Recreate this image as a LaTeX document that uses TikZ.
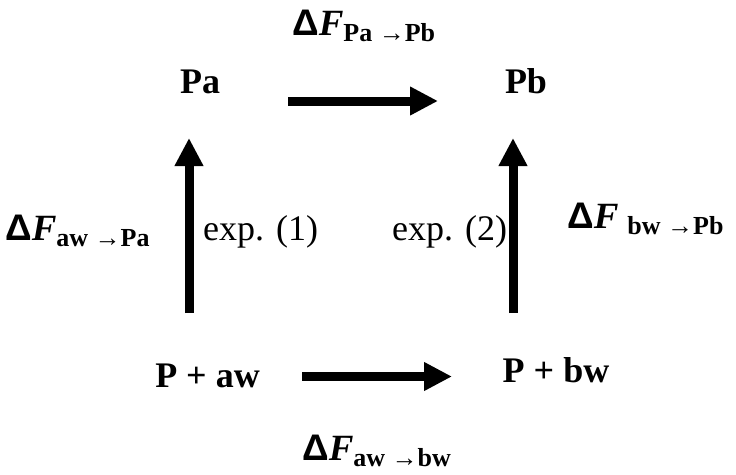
\documentclass[tikz,border=0pt]{standalone}
\usepackage{fontspec}
\setmainfont{Liberation Serif}
\newfontfamily\dsans{Liberation Sans}
\usetikzlibrary{arrows.meta}
\newcommand\dF{{\dsans\bfseries Δ}{\bfseries\itshape F}}
\newcommand\sbs[1]{\raisebox{-6pt}{\fontsize{26}{28}\selectfont\bfseries #1}}
\begin{document}
\begin{tikzpicture}[x=1pt,y=-1pt,
  state/.style={font=\fontsize{36}{40}\selectfont\bfseries, inner sep=0pt, anchor=base},
  bigarrow/.style={line width=9pt, -{Triangle[length=28pt,width=27pt]}},
  dlabel/.style={inner sep=0pt, anchor=base west, font=\fontsize{37}{40}\selectfont},
  elabel/.style={inner sep=0pt, anchor=base west, font=\fontsize{36}{40}\selectfont}]
\useasboundingbox (0,0) rectangle (736,474);
% states
\node[state] (Pa)  at (200,93)   {Pa};
\node[state] (Pb)  at (526,93)   {Pb};
\node[state] (Paw) at (207.5,387) {P + aw};
\node[state] (Pbw) at (556,382)  {P + bw};
% arrow end points
\coordinate (t1) at (288,101);
\coordinate (t2) at (438,101);
\coordinate (b1) at (302,376.5);
\coordinate (b2) at (452,376.5);
\coordinate (l1) at (189,313);
\coordinate (l2) at (189,138);
\coordinate (r1) at (513,313);
\coordinate (r2) at (513,138);
\draw[bigarrow] (t1) -- (t2);
\draw[bigarrow] (b1) -- (b2);
\draw[bigarrow] (l1) -- (l2);
\draw[bigarrow] (r1) -- (r2);
% labels
\node[dlabel] (lt) at (292,35)  {\dF\sbs{Pa →Pb}};
\node[dlabel] (ll) at (5,240)   {\dF\sbs{aw →Pa}};
\node[dlabel] (lr) at (567,228) {\dF\hspace{9pt}\sbs{bw →Pb}};
\node[dlabel] (lb) at (302,460) {\dF\sbs{aw →bw}};
\node[elabel] (e1) at (203,240) {exp. (1)};
\node[elabel] (e2) at (392,240) {exp. (2)};
\end{tikzpicture}
\end{document}
